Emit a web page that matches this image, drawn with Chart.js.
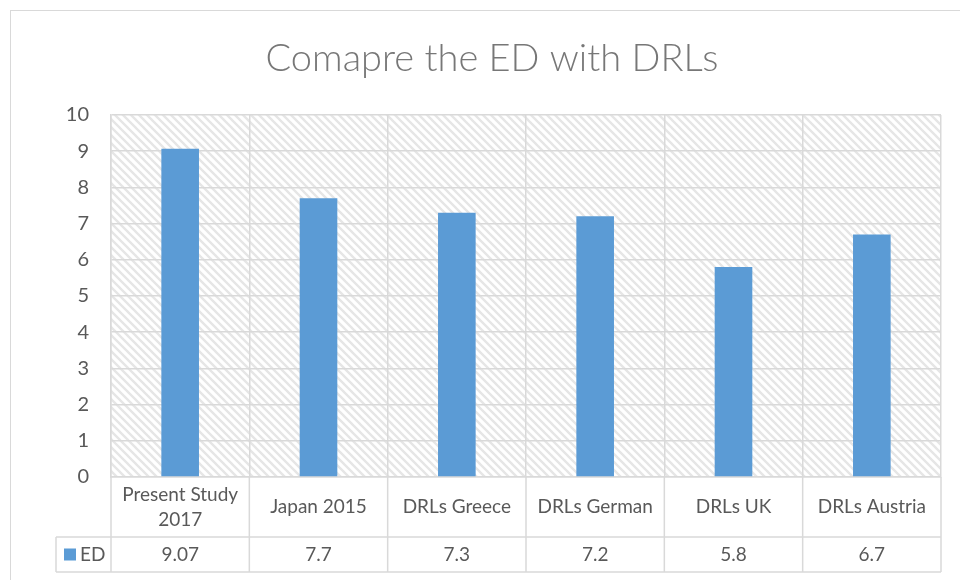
<!DOCTYPE html>
<html>
<head>
<meta charset="utf-8">
<script src="https://cdn.jsdelivr.net/npm/chart.js@4.4.1/dist/chart.umd.min.js"></script>
<style>
  html, body { margin: 0; padding: 0; background: #ffffff; }
  #frame { position: absolute; left: 10px; top: 10px; width: 980px; height: 600px;
           border: 1.5px solid #d9d9d9; box-sizing: border-box; }
  #wrap { position: absolute; left: 0; top: 0; width: 960px; height: 580px; }
</style>
</head>
<body>
<div id="frame"></div>
<div id="wrap"><canvas id="chart" width="960" height="580"></canvas></div>
<script>
// Categories (multi-line where the row wraps) and the ED values per source
const categories = [
  ['Present Study', '2017'],
  ['Japan 2015'],
  ['DRLs Greece'],
  ['DRLs German'],
  ['DRLs UK'],
  ['DRLs Austria']
];
const edValues = [9.07, 7.7, 7.3, 7.2, 5.8, 6.7];
const seriesName = 'ED';
const titleText = 'Comapre the ED with DRLs';
const yTicks = [0, 1, 2, 3, 4, 5, 6, 7, 8, 9, 10];

const FONT = 'Lato, "Open Sans", sans-serif';
const TEXT = '#595959';
const GRID = '#d9d9d9';
const BAR = '#5b9bd5';

// Downward diagonal hatch used as the plot background
function makeHatch() {
  const c = document.createElement('canvas');
  c.width = 8; c.height = 8;
  const g = c.getContext('2d');
  g.fillStyle = '#ffffff';
  g.fillRect(0, 0, 8, 8);
  g.strokeStyle = '#e6e6e6';
  g.lineWidth = 2.4;
  g.beginPath();
  g.moveTo(-2, -2); g.lineTo(10, 10);
  g.moveTo(-10, -2); g.lineTo(2, 10);
  g.moveTo(6, -2); g.lineTo(18, 10);
  g.stroke();
  return g.createPattern(c, 'repeat');
}

const hatchBackground = {
  id: 'hatchBackground',
  beforeDraw(chart) {
    const { ctx, chartArea: a } = chart;
    ctx.save();
    ctx.fillStyle = makeHatch();
    ctx.fillRect(a.left, a.top, a.right - a.left, a.bottom - a.top);
    ctx.restore();
  }
};

// Chart title, centred on the whole chart frame
const frameTitle = {
  id: 'frameTitle',
  afterDraw(chart) {
    const ctx = chart.ctx;
    ctx.save();
    ctx.fillStyle = '#777777';
    ctx.font = '300 38px ' + FONT;
    ctx.textAlign = 'center';
    ctx.textBaseline = 'alphabetic';
    ctx.fillText(titleText, 492, 71);
    ctx.restore();
  }
};

// Data table under the plot: category row, then legend key + values row
const dataTable = {
  id: 'dataTable',
  afterDraw(chart) {
    const { ctx, chartArea: a } = chart;
    const x = chart.scales.x;
    const rowTop = a.bottom;
    const rowMid = a.bottom + 60;
    const rowEnd = a.bottom + 95;
    const keyLeft = 56;
    const half = (x.getPixelForValue(1) - x.getPixelForValue(0)) / 2;

    ctx.save();
    ctx.strokeStyle = GRID;
    ctx.lineWidth = 1.5;
    ctx.beginPath();
    ctx.moveTo(keyLeft, rowMid); ctx.lineTo(a.right, rowMid);
    ctx.moveTo(keyLeft, rowEnd); ctx.lineTo(a.right, rowEnd);
    ctx.moveTo(keyLeft, rowMid); ctx.lineTo(keyLeft, rowEnd);
    for (let i = 0; i < categories.length; i++) {
      const xl = x.getPixelForValue(i) - half;
      ctx.moveTo(xl, rowTop); ctx.lineTo(xl, rowEnd);
    }
    ctx.moveTo(a.right, rowTop); ctx.lineTo(a.right, rowEnd);
    ctx.stroke();

    ctx.fillStyle = TEXT;
    ctx.textAlign = 'center';
    ctx.textBaseline = 'middle';
    ctx.font = '19px ' + FONT;
    categories.forEach((lines, i) => {
      const cx = x.getPixelForValue(i);
      const cy = (rowTop + rowMid) / 2;
      const lh = 25;
      lines.forEach((t, k) => {
        ctx.fillText(t, cx, cy + (k - (lines.length - 1) / 2) * lh);
      });
    });
    const vy = (rowMid + rowEnd) / 2;
    edValues.forEach((v, i) => {
      ctx.fillText(String(v), x.getPixelForValue(i), vy);
    });
    ctx.fillStyle = BAR;
    ctx.fillRect(64, vy - 6, 12, 12);
    ctx.fillStyle = TEXT;
    ctx.textAlign = 'left';
    ctx.fillText(seriesName, 80, vy);
    ctx.restore();
  }
};

new Chart(document.getElementById('chart'), {
  type: 'bar',
  data: {
    labels: categories,
    datasets: [{
      label: seriesName,
      data: edValues,
      backgroundColor: BAR,
      borderWidth: 0,
      categoryPercentage: 1,
      barPercentage: 0.272
    }]
  },
  plugins: [hatchBackground, dataTable, frameTitle],
  options: {
    responsive: false,
    animation: false,
    devicePixelRatio: 1,
    layout: { padding: { left: 0, right: 19, top: 115, bottom: 8 } },
    plugins: {
      legend: { display: false },
      tooltip: { enabled: false },
      title: { display: false }
    },
    scales: {
      x: {
        offset: true,
        grid: { display: true, offset: true, color: GRID, lineWidth: 1.5, drawTicks: false },
        border: { display: true, color: GRID, width: 1.5 },
        ticks: { display: false },
        afterFit(scale) { scale.height = 95; }
      },
      y: {
        min: 0,
        max: 10,
        afterBuildTicks(scale) { scale.ticks = yTicks.map(v => ({ value: v })); },
        grid: { color: GRID, lineWidth: 1.5, drawTicks: false },
        border: { display: true, color: GRID, width: 1.5 },
        ticks: { color: TEXT, font: { family: FONT, size: 20 }, padding: 22 },
        afterFit(scale) { scale.width = 111; }
      }
    }
  }
});
</script>
</body>
</html>
